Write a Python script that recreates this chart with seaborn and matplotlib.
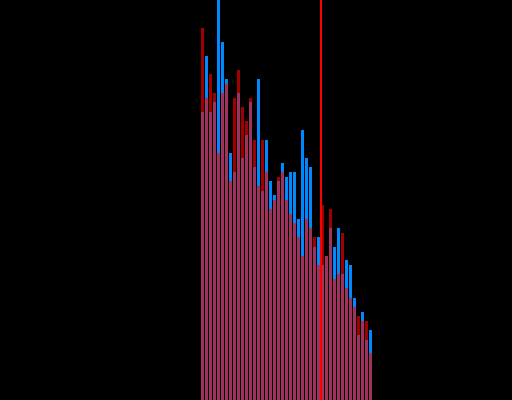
import numpy as np
import pandas as pd
import matplotlib
matplotlib.use("Agg")
import matplotlib.pyplot as plt
import seaborn as sns

# counts per bin
blue_counts = [62, 74, 62, 64, 86, 77, 69, 53, 49, 66, 52, 57, 64, 50, 69, 45,
               56, 47, 44, 47, 51, 48, 49, 49, 39, 58, 52, 50, 33, 35, 29, 31,
               37, 33, 37, 27, 30, 29, 22, 14, 19, 13, 15]
red_counts = [80, 65, 70, 66, 53, 66, 68, 47, 65, 71, 63, 60, 65, 56, 46, 56,
              49, 41, 43, 48, 49, 43, 40, 38, 35, 31, 39, 37, 35, 29, 42, 31,
              41, 26, 27, 36, 24, 22, 20, 18, 17, 17, 10]
marker_x = 30.1

n_bins = len(blue_counts)
df = pd.DataFrame({"x": np.arange(n_bins) + 0.5, "blue": blue_counts, "red": red_counts})

sns.set_style("dark")
fig = plt.figure(figsize=(5.12, 4.0), dpi=100, facecolor="black")
ax = fig.add_axes([0, 0, 1, 1])
ax.set_facecolor("black")

sns.histplot(data=df, x="x", weights="blue", binwidth=1, binrange=(0, n_bins),
             shrink=0.75, color="#0088ff", alpha=1.0, linewidth=0, ax=ax)
sns.histplot(data=df, x="x", weights="red", binwidth=1, binrange=(0, n_bins),
             shrink=0.75, color="#ff0000", alpha=0.63, linewidth=0, ax=ax)
ax.axvline(marker_x, color="#ff0000", linewidth=1.3, zorder=10, antialiased=False)

ax.set_xlim(-50.125, 77.875)
ax.set_ylim(0, max(blue_counts + red_counts))
ax.set_axis_off()

fig.savefig("out.png", dpi=100, facecolor="black")
